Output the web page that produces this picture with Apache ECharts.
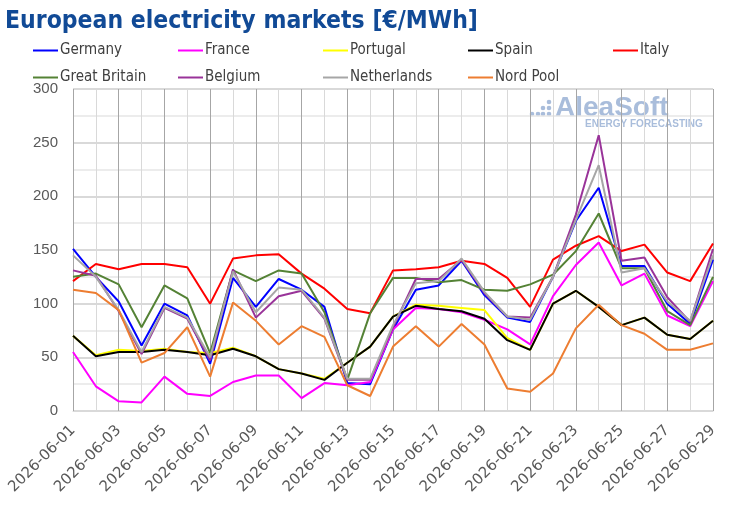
<!DOCTYPE html>
<html lang="en">
  <head>
    <meta charset="UTF-8" />
    <title>European electricity markets</title>
    <style>
      * {
        padding: 0;
        margin: 0;
      }
      html,
      body {
        width: 100%;
        height: 100%;
        background: #fff;
      }
      #main {
        width: 730px;
        height: 509px;
      }
    </style>
  </head>
  <body>
    <div id="main"></div>
    <script src="https://cdn.jsdelivr.net/npm/echarts@6/dist/echarts.min.js"></script>
    <script>
      // dates
      var days = [];
      for (var d = 1; d <= 29; d++) {
        days.push('2026-06-' + (d < 10 ? '0' + d : d));
      }
      var germany = [151, 125, 102, 61, 100, 89, 44, 124, 97, 123, 113, 97, 26, 25, 76, 113, 117, 140, 108, 87, 83, 125, 177, 208, 135, 135, 100, 81, 141];
      var france = [55, 23, 9, 8, 32, 16, 14, 27, 33, 33, 12, 26, 24, 27, 76, 96, 95, 92, 85, 76, 62, 107, 136, 157, 117, 128, 89, 79, 121];
      var portugal = [70, 52, 57, 56, 58, 55, 54, 59, 51, 39, 35, 30, 45, 60, 88, 99, 98, 96, 94, 68, 57, 100, 112, 97, 80, 87, 71, 67, 84];
      var spain = [70, 51, 55, 55, 57, 55, 52, 58, 51, 39, 35, 29, 45, 60, 88, 98, 95, 93, 86, 66, 57, 100, 112, 97, 80, 87, 71, 67, 84];
      var italy = [121, 137, 132, 137, 137, 134, 100, 142, 145, 146, 128, 114, 95, 91, 131, 132, 134, 140, 137, 124, 97, 141, 154, 163, 149, 155, 129, 121, 156];
      var greatBritain = [125, 128, 118, 78, 117, 105, 54, 131, 121, 131, 128, 92, 29, 91, 124, 124, 120, 122, 113, 112, 118, 127, 149, 184, 133, 133, 93, 80, 125];
      var belgium = [131, 126, 93, 53, 96, 86, 47, 132, 87, 107, 112, 86, 29, 29, 78, 123, 123, 141, 110, 88, 87, 125, 183, 257, 140, 143, 106, 83, 151];
      var netherlands = [145, 125, 94, 55, 97, 87, 50, 130, 92, 115, 113, 87, 30, 30, 80, 119, 121, 142, 111, 88, 85, 125, 178, 229, 129, 133, 102, 84, 145];
      var nordPool = [113, 110, 94, 45, 54, 78, 32, 101, 84, 62, 79, 69, 24, 14, 60, 79, 60, 81, 62, 21, 18, 35, 77, 99, 80, 72, 57, 57, 63];

      var names = ['Germany', 'France', 'Portugal', 'Spain', 'Italy', 'Great Britain', 'Belgium', 'Netherlands', 'Nord Pool'];
      var values = [germany, france, portugal, spain, italy, greatBritain, belgium, netherlands, nordPool];
      var colors = ['#0000ff', '#ff00ff', '#ffff00', '#000000', '#ff0000', '#548235', '#993399', '#a6a6a6', '#ed7d31'];

      var narrow = "'Liberation Sans Narrow', 'DejaVu Sans Condensed', sans-serif";
      var myChart = echarts.init(document.getElementById('main'));

      // one legend per item so the columns line up
      var legends = names.map(function(n, i) {
        return {
          data: [n],
          left: 33 + 145 * (i % 5),
          top: i < 5 ? 43 : 70,
          padding: 0,
          icon: 'rect',
          itemWidth: 25,
          itemHeight: 2,
          textStyle: {
            fontFamily: narrow,
            fontSize: 15,
            color: '#404040',
            padding: [0, 0, 0, -3],
          },
        };
      });

      // watermark dots
      var dots = [[532, 114], [538, 114], [543, 114], [543, 108], [549, 114], [549, 108], [549, 102]];
      var graphics = dots.map(function(p) {
        return {type: 'circle', shape: {cx: p[0], cy: p[1], r: 2.3}, style: {fill: '#a9bddb'}, silent: true};
      });
      graphics.push({
        type: 'text',
        left: 555,
        top: 94,
        style: {text: 'AleaSoft', font: 'bold 28px "Liberation Sans", Arial, sans-serif', fill: '#a9bddb'},
        silent: true,
      });
      graphics.push({
        type: 'text',
        left: 585,
        top: 119,
        style: {text: 'ENERGY FORECASTING', font: 'bold 10px "Liberation Sans", Arial, sans-serif', fill: '#a9bddb'},
        silent: true,
      });

      var option = {
        animation: false,
        color: colors,
        title: {
          text: 'European electricity markets [€/MWh]',
          left: 5,
          top: 9,
          padding: 0,
          textStyle: {
            fontFamily: narrow,
            fontSize: 24.5,
            fontWeight: 'bold',
            color: '#114a96',
          },
        },
        legend: legends,
        graphic: graphics,
        grid: {
          left: 73,
          right: 17,
          top: 89,
          bottom: 98,
          containLabel: false,
          outerBoundsMode: 'none',
        },
        xAxis: {
          type: 'category',
          boundaryGap: false,
          data: days,
          axisTick: {show: false},
          axisLine: {lineStyle: {color: '#d9d9d9', width: 1}},
          axisLabel: {
            interval: 1,
            rotate: 45,
            margin: 17,
            fontSize: 15,
            color: '#595959',
            fontFamily: "'DejaVu Sans', sans-serif",
          },
          splitLine: {
            show: true,
            interval: 0,
            lineStyle: {color: ['#a6a6a6', '#d9d9d9'], width: 1},
          },
        },
        yAxis: {
          type: 'value',
          min: 0,
          max: 300,
          interval: 50,
          axisLine: {show: false},
          axisTick: {show: false},
          axisLabel: {
            fontSize: 15,
            margin: 15,
            color: '#595959',
            fontFamily: "'Liberation Sans', Arial, sans-serif",
          },
          splitLine: {lineStyle: {color: '#cccccc', width: 1.5}},
          minorTick: {show: false, splitNumber: 2},
          minorSplitLine: {show: true, lineStyle: {color: '#e6e6e6', width: 1.5}},
        },
        series: names.map(function(n, i) {
          return {
            name: n,
            type: 'line',
            data: values[i],
            symbol: 'none',
            lineStyle: {width: 2, color: colors[i]},
            itemStyle: {color: colors[i]},
          };
        }),
      };
      myChart.setOption(option);
    </script>
  </body>
</html>
